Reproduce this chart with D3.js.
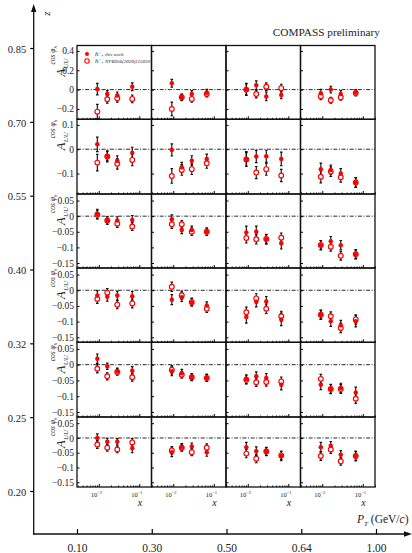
<!DOCTYPE html>
<html>
<head>
<meta charset="utf-8">
<script src="https://cdn.jsdelivr.net/npm/d3@7"></script>
<style>
  body { margin: 0; background: #fff; }
  text { font-family: "Liberation Serif", "Times New Roman", serif; fill: #222; }
</style>
</head>
<body>
<script>
// bins
const zLabels = ["0.85", "0.70", "0.55", "0.40", "0.32", "0.25", "0.20"];
const ptLabels = ["0.10", "0.30", "0.50", "0.64", "1.00"];
const xBins = [0.0092, 0.0162, 0.0286, 0.067];

// A_UU^cos(phi_h), rows = z bins (top to bottom), cols = pT bins, 4 x-bins each
const thisWork = [
  [[0.005, -0.045, -0.06, 0.03], [0.066, -0.079, -0.045, -0.032], [0.004, 0.045, -0.07, -0.055], [-0.037, 0.0, -0.045, -0.03]],
  [[0.02, -0.028, -0.047, -0.014], [-0.003, -0.074, -0.047, -0.04], [-0.04, -0.03, -0.029, -0.04], [-0.082, -0.085, -0.10, -0.137]],
  [[0.007, -0.014, -0.014, -0.012], [-0.01, -0.044, -0.044, -0.05], [-0.052, -0.05, -0.074, -0.087], [-0.093, -0.08, -0.093, -0.122]],
  [[-0.017, -0.021, -0.017, -0.019], [-0.03, -0.022, -0.038, -0.049], [-0.085, -0.037, -0.036, -0.093], [-0.078, -0.099, -0.112, -0.099]],
  [[0.019, -0.005, -0.021, -0.019], [-0.021, -0.027, -0.039, -0.042], [-0.046, -0.037, -0.042, -0.064], [-0.064, -0.077, -0.074, -0.088]],
  [[0.0, -0.013, -0.013, -0.035], [-0.048, -0.031, -0.029, -0.048], [-0.031, -0.045, -0.046, -0.061], [-0.031, -0.026, -0.057, -0.061]]
];
const thisWorkErr = [
  [[0.06, 0.035, 0.035, 0.04], [0.04, 0.03, 0.035, 0.035], [0.06, 0.045, 0.045, 0.04], [0.04, 0.035, 0.035, 0.03]],
  [[0.03, 0.02, 0.02, 0.022], [0.025, 0.02, 0.02, 0.02], [0.03, 0.025, 0.025, 0.028], [0.025, 0.02, 0.02, 0.02]],
  [[0.015, 0.012, 0.012, 0.014], [0.014, 0.012, 0.012, 0.012], [0.02, 0.018, 0.016, 0.018], [0.015, 0.015, 0.015, 0.015]],
  [[0.016, 0.014, 0.014, 0.015], [0.016, 0.014, 0.012, 0.012], [0.02, 0.016, 0.016, 0.02], [0.015, 0.016, 0.016, 0.018]],
  [[0.015, 0.01, 0.01, 0.013], [0.014, 0.012, 0.011, 0.011], [0.014, 0.014, 0.014, 0.016], [0.015, 0.015, 0.015, 0.017]],
  [[0.014, 0.012, 0.011, 0.015], [0.015, 0.012, 0.012, 0.014], [0.016, 0.015, 0.014, 0.016], [0.016, 0.014, 0.014, 0.017]]
];
const npb = [
  [[-0.228, -0.10, -0.09, -0.096], [-0.20, -0.08, -0.096, -0.045], [0.0, -0.045, 0.03, 0.015], [-0.07, -0.11, -0.08, -0.035]],
  [[-0.055, -0.03, -0.06, -0.044], [-0.11, -0.085, -0.082, -0.058], [-0.042, -0.096, -0.082, -0.108], [-0.113, -0.092, -0.115, -0.137]],
  [[0.005, -0.014, -0.024, -0.033], [-0.026, -0.026, -0.05, -0.05], [-0.07, -0.074, -0.073, -0.069], [-0.092, -0.098, -0.127, -0.122]],
  [[-0.028, -0.008, -0.046, -0.042], [0.011, -0.016, -0.038, -0.059], [-0.07, -0.026, -0.059, -0.083], [-0.078, -0.083, -0.12, -0.093]],
  [[-0.013, -0.037, -0.023, -0.04], [-0.016, -0.032, -0.04, -0.042], [-0.048, -0.056, -0.055, -0.053], [-0.045, -0.077, -0.077, -0.108]],
  [[-0.022, -0.033, -0.039, -0.015], [-0.042, -0.033, -0.048, -0.033], [-0.053, -0.07, -0.046, -0.059], [-0.061, -0.039, -0.079, -0.061]]
];
const npbErr = [
  [[0.075, 0.04, 0.04, 0.04], [0.07, 0.035, 0.035, 0.03], [0.06, 0.04, 0.04, 0.04], [0.035, 0.03, 0.03, 0.03]],
  [[0.034, 0.022, 0.022, 0.024], [0.03, 0.022, 0.022, 0.02], [0.028, 0.025, 0.025, 0.025], [0.025, 0.02, 0.02, 0.02]],
  [[0.014, 0.012, 0.012, 0.013], [0.013, 0.012, 0.012, 0.012], [0.016, 0.015, 0.014, 0.015], [0.014, 0.014, 0.014, 0.014]],
  [[0.014, 0.013, 0.013, 0.014], [0.015, 0.013, 0.012, 0.012], [0.016, 0.015, 0.015, 0.016], [0.014, 0.014, 0.015, 0.015]],
  [[0.013, 0.011, 0.01, 0.012], [0.013, 0.011, 0.011, 0.011], [0.013, 0.013, 0.013, 0.014], [0.014, 0.014, 0.014, 0.015]],
  [[0.013, 0.012, 0.011, 0.013], [0.013, 0.012, 0.012, 0.013], [0.014, 0.014, 0.013, 0.014], [0.015, 0.013, 0.013, 0.015]]
];

const yDomains = [[-0.307, 0.456], [-0.184, 0.123], [-0.166, 0.071], [-0.166, 0.071], [-0.166, 0.071], [-0.166, 0.071]];
const yTicks = [[0.4, 0.2, 0, -0.2], [0.1, 0, -0.1], [0.05, 0, -0.05, -0.1, -0.15], [0.05, 0, -0.05, -0.1, -0.15],
  [0.05, 0, -0.05, -0.1, -0.15], [0.05, 0, -0.05, -0.1, -0.15]];

const RED = "#ff0000";
const W = 412, H = 553;
const rowEdges = [45.5, 119.3, 194, 268, 342.3, 417, 487];

const svg = d3.select("body").append("svg")
  .attr("width", W).attr("height", H)
  .attr("font-family", "Liberation Serif");

const colScale = d3.scaleBand().domain(d3.range(4)).range([77, 375]);
const colW = colScale.bandwidth();

// outer z axis
const zScale = d3.scalePoint().domain(zLabels).range([48, 491]);
const zAxis = svg.append("g")
  .attr("transform", "translate(33.7,0)")
  .call(d3.axisLeft(zScale).tickSize(3.5).tickPadding(4));
zAxis.attr("font-family", null);
zAxis.select(".domain").remove();
zAxis.selectAll("text").attr("font-size", 10.5).attr("dy", "0.4em");
zAxis.selectAll("line").attr("stroke-width", 1.2);

// outer pT axis
const ptScale = d3.scalePoint().domain(ptLabels).range([77, 376]);
const ptAxis = svg.append("g")
  .attr("transform", "translate(0,534)")
  .call(d3.axisBottom(ptScale).tickSize(-5).tickPadding(10));
ptAxis.attr("font-family", null);
ptAxis.select(".domain").remove();
ptAxis.selectAll("text").attr("font-size", 11.5);
ptAxis.selectAll("line").attr("stroke-width", 1.2);

svg.append("line").attr("x1", 33.7).attr("x2", 33.7).attr("y1", 534.6).attr("y2", 10)
  .attr("stroke", "#111").attr("stroke-width", 1.3);
svg.append("path").attr("d", "M33.7,4 L31,12 L36.4,12 Z").attr("fill", "#111");
svg.append("line").attr("x1", 33).attr("x2", 406).attr("y1", 534).attr("y2", 534)
  .attr("stroke", "#111").attr("stroke-width", 1.3);
svg.append("path").attr("d", "M412,534 L404,531.3 L404,536.7 Z").attr("fill", "#111");

svg.append("text").attr("transform", "translate(45.5,13.5) rotate(-90)")
  .attr("text-anchor", "middle").attr("dominant-baseline", "central")
  .attr("font-size", 11).attr("font-style", "italic").text("z");

const ptLab = svg.append("text").attr("x", 357).attr("y", 523).attr("font-size", 11.5);
ptLab.append("tspan").attr("font-style", "italic").text("P");
ptLab.append("tspan").attr("font-style", "italic").attr("font-size", 7).attr("dy", 2.5).text("T");
ptLab.append("tspan").attr("dy", -2.5).text(" (GeV/");
ptLab.append("tspan").attr("font-style", "italic").text("c");
ptLab.append("tspan").text(")");

svg.append("text").attr("x", 380).attr("y", 36).attr("text-anchor", "end")
  .attr("font-size", 11.3).text("COMPASS preliminary");

// panels
rowEdges.slice(0, -1).forEach((top, r) => {
  const bottom = rowEdges[r + 1];
  const y = d3.scaleLinear().domain(yDomains[r]).range([bottom, top]);

  const lab = svg.append("g").attr("transform", `translate(64.5,${top + 31}) rotate(-90)`);
  lab.append("text").attr("font-size", 12.5).attr("font-style", "italic").text("A");
  lab.append("text").attr("x", 8).attr("y", 3).attr("font-size", 7).attr("font-style", "italic").text("UU");
  const sup = lab.append("text").attr("x", 12).attr("y", -9.5).attr("font-size", 7.5).attr("font-style", "italic");
  sup.append("tspan").text("cos φ");
  sup.append("tspan").attr("font-size", 5).attr("dy", 1.5).text("h");

  d3.range(4).forEach(c => {
    const x0 = colScale(c);
    const x = d3.scaleLog().domain([0.0029, 0.2]).range([x0, x0 + colW]);
    const g = svg.append("g");

    g.append("line").attr("x1", x0).attr("x2", x0 + colW).attr("y1", y(0)).attr("y2", y(0))
      .attr("stroke", "#111").attr("stroke-width", 0.9).attr("stroke-dasharray", "4,1.6,1,1.6");

    const yAx = g.append("g").attr("transform", `translate(${x0},0)`)
      .call(d3.axisLeft(y).tickValues(yTicks[r]).tickSize(-2.5).tickPadding(3)
        .tickFormat(c === 0 ? d3.format("") : ""));
    yAx.attr("font-family", null);
    yAx.select(".domain").remove();
    yAx.selectAll("text").attr("font-size", 9.5);

    const minor = x.ticks().filter(v => Math.abs(Math.log10(v) - Math.round(Math.log10(v))) > 1e-6);
    const xMin = g.append("g").attr("transform", `translate(0,${bottom})`)
      .call(d3.axisBottom(x).tickValues(minor).tickSize(-1.5).tickFormat(""));
    const xMaj = g.append("g").attr("transform", `translate(0,${bottom})`)
      .call(d3.axisBottom(x).tickValues([0.01, 0.1]).tickSize(-3).tickFormat(""));
    xMin.select(".domain").remove();
    xMaj.select(".domain").remove();

    const pts = xBins.map((xv, i) => ({
      x: xv, a: thisWork[r][c][i], ae: thisWorkErr[r][c][i], b: npb[r][c][i], be: npbErr[r][c][i]
    }));

    const bars = [].concat(pts.map(d => ({x: d.x, v: d.b, e: d.be})), pts.map(d => ({x: d.x, v: d.a, e: d.ae})));
    g.selectAll(".err").data(bars).enter().append("path")
      .attr("d", d => {
        const px = x(d.x), y1 = y(d.v - d.e), y2 = y(d.v + d.e);
        return `M${px},${y1}V${y2}M${px - 1.3},${y1}H${px + 1.3}M${px - 1.3},${y2}H${px + 1.3}`;
      })
      .attr("stroke", "#111").attr("stroke-width", 1.15).attr("fill", "none");

    g.selectAll(".open").data(pts).enter().append("circle")
      .attr("cx", d => x(d.x)).attr("cy", d => y(d.b)).attr("r", 2.4)
      .attr("fill", "#fff").attr("stroke", RED).attr("stroke-width", 1.15);
    g.selectAll(".fill").data(pts).enter().append("circle")
      .attr("cx", d => x(d.x)).attr("cy", d => y(d.a)).attr("r", 2.25)
      .attr("fill", RED);

    g.append("rect").attr("x", x0).attr("y", top).attr("width", colW).attr("height", bottom - top)
      .attr("fill", "none").attr("stroke", "#111").attr("stroke-width", 1.3);

    if (r === rowEdges.length - 2) {
      [0.01, 0.1].forEach((v, k) => {
        const t = svg.append("text").attr("x", x(v) - 2.5).attr("y", 497)
          .attr("text-anchor", "middle").attr("font-size", 6.5);
        t.append("tspan").text("10");
        t.append("tspan").attr("font-size", 4.5).attr("dy", -2.6).text(k === 0 ? "−2" : "−1");
      });
      svg.append("text").attr("x", x0 + 63).attr("y", 506).attr("text-anchor", "middle")
        .attr("font-size", 10).attr("font-style", "italic").text("x");
    }
  });
});

// legend
const leg = [
  {y: 54, open: false, ref: "this work"},
  {y: 61, open: true, ref: "NPB956(2020)115039"}
];
leg.forEach(d => {
  svg.append("circle").attr("cx", 87).attr("cy", d.y).attr("r", d.open ? 2.2 : 2)
    .attr("fill", d.open ? "#fff" : RED).attr("stroke", d.open ? RED : "none").attr("stroke-width", 1.1);
  const t = svg.append("text").attr("x", 95).attr("y", d.y + 2).attr("font-size", 7).attr("font-style", "italic");
  t.append("tspan").text("h");
  t.append("tspan").attr("font-size", 4.5).attr("dy", -2.5).text("+");
  t.append("tspan").attr("dy", 2.5).text(", ");
  t.append("tspan").attr("font-size", 5).text(d.ref);
});
</script>
</body>
</html>
